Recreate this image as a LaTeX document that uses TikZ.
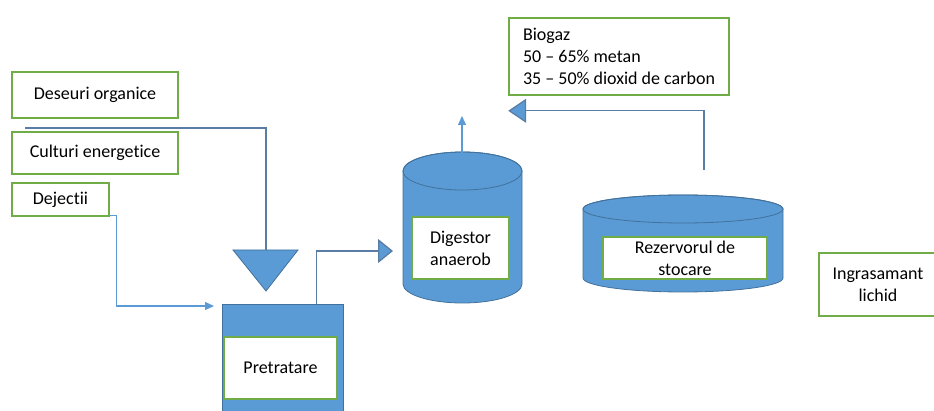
\documentclass[tikz,border=0pt]{standalone}
\usepackage{fontspec}
\setmainfont{Carlito}[Ligatures=NoCommon]
\usetikzlibrary{arrows.meta}
\definecolor{tankblue}{HTML}{5B9BD5}
\definecolor{tankedge}{HTML}{41719C}
\definecolor{boxgreen}{HTML}{70AD47}
\definecolor{pipeblue}{HTML}{5A7DA6}

\begin{document}
\begin{tikzpicture}[x=1pt, y=-1pt, font=\fontsize{18}{22}\selectfont,
  labelbox/.style={draw=boxgreen, line width=1.6pt, fill=white, inner sep=0pt, align=center},
  tank/.style={fill=tankblue, draw=tankedge, line width=0.8pt},
  pipe/.style={draw=pipeblue, line width=1.3pt},
  feed/.style={draw=tankblue, line width=1.2pt, -{Triangle[length=9pt,width=8pt]}},
  bigtip/.style={-{Triangle[length=#1,width=24pt,fill=tankblue]}}]
  \useasboundingbox (0,0) rectangle (934,411);

  % input boxes
  \node[labelbox, minimum width=166pt, minimum height=46pt] (deseuri) at (95,95) {Deseuri organice};
  \node[labelbox, minimum width=166pt, minimum height=42pt] (culturi) at (95,153) {Culturi energetice};
  \node[labelbox, minimum width=97pt, minimum height=33pt] (dejectii) at (60.5,199.5) {Dejectii};

  % funnel and pretreatment tank
  \filldraw[tank] (233,250) -- (298,250) -- (266,291) -- cycle;
  \coordinate (funnel) at (266,250);
  \node[tank, minimum width=121pt, minimum height=110pt, anchor=north west] (pre) at (222,304) {};
  \node[labelbox, minimum width=112pt, minimum height=62pt] (pretratare) at (280.5,368) {Pretratare};

  \coordinate (feedstart) at (25,128);
  \draw[pipe] (feedstart) -| (funnel);
  \draw[feed] ([yshift=1pt]dejectii.south east) -- ++(7,0) |- ([xshift=-8pt,yshift=-2pt]pre.north west);

  % digester
  \filldraw[tank] (403,171) -- (403,284) arc[start angle=180, end angle=0, x radius=59.5, y radius=19]
    -- (522,171) arc[start angle=360, end angle=180, x radius=59.5, y radius=19] -- cycle;
  \draw[tankedge, line width=0.8pt] (462.5,171) ellipse[x radius=59.5, y radius=19];
  \coordinate (digtop) at (462,152);
  \coordinate (digin) at (393,251);
  \node[labelbox, minimum width=97pt, minimum height=62pt] (digestor) at (460.5,248) {Digestor\\anaerob};
  \draw[pipe, bigtip=15pt] ([xshift=-27pt]pre.north east) |- (digin);
  \draw[feed] ([yshift=-27pt]digtop) -- ++(0,-63);

  % biogas
  \node[labelbox, minimum width=220pt, minimum height=77pt, align=left] (biogaz) at (619,56.5)
    {Biogaz\\50 -- 65\% metan\\35 -- 50\% dioxid de carbon};

  % storage tank
  \filldraw[tank] (583,209) -- (583,278) arc[start angle=180, end angle=0, x radius=100, y radius=14]
    -- (783,209) arc[start angle=360, end angle=180, x radius=100, y radius=14] -- cycle;
  \draw[tankedge, line width=0.8pt] (683,209) ellipse[x radius=100, y radius=14];
  \coordinate (rezout) at (704,170);
  \node[labelbox, minimum width=164pt, minimum height=42pt] (rezervor) at (685,258) {Rezervorul de\\stocare};
  \draw[pipe, bigtip=18pt] (rezout) |- ([yshift=-15pt]biogaz.south west);

  % output
  \node[labelbox, minimum width=118pt, minimum height=63pt] (ingrasamant) at (878,284.5) {Ingrasamant\\lichid};
\end{tikzpicture}
\end{document}
